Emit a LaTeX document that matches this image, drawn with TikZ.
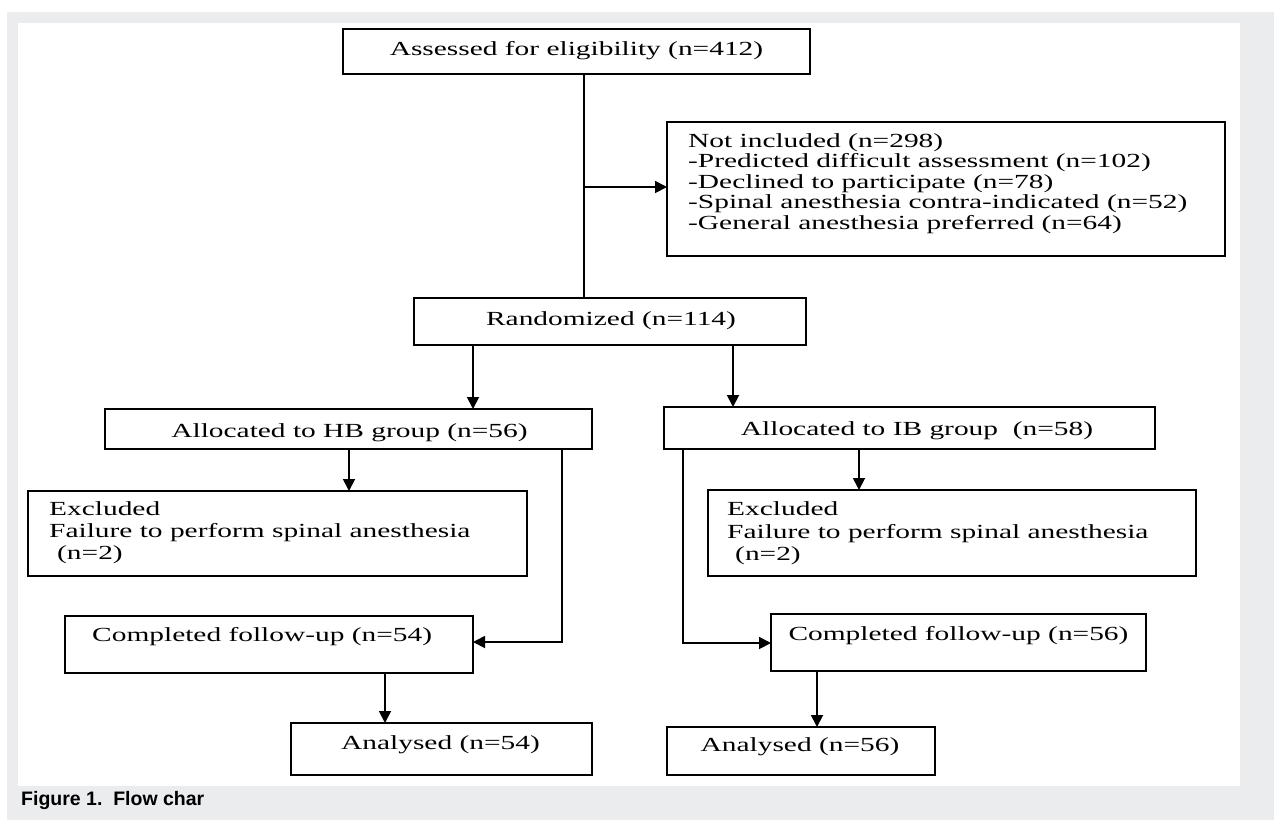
\documentclass[tikz,border=0pt]{standalone}
\usepackage{fontspec}
\setmainfont{Liberation Serif}[FakeStretch=1.47]
\newfontfamily\capfont{Liberation Sans}
\usetikzlibrary{arrows.meta}
\definecolor{bggray}{RGB}{235,236,238}
\begin{document}
\begin{tikzpicture}[x=1pt,y=-1pt,
  box/.style={draw=black, line width=1.7pt, inner sep=0pt, outer sep=0pt, fill=white},
  ln/.style={line width=1.8pt},
  arr/.style={line width=1.8pt, -{Triangle[length=12pt,width=12pt]}},
  txt/.style={inner sep=0pt, font=\fontsize{20}{24}\selectfont}]
\useasboundingbox (0,0) rectangle (1274,820);
\fill[white] (0,0) rectangle (1274,820);
\fill[bggray] (7,12) rectangle (1274,820);
\fill[white] (18,23) rectangle (1240,786);

% boxes
\node[box, minimum width=467, minimum height=45] (A)  at (576.5,51.5) {};
\node[box, minimum width=558, minimum height=134] (N) at (946,189) {};
\node[box, minimum width=392, minimum height=47] (R)  at (610,321.5) {};
\node[box, minimum width=487, minimum height=40] (HB) at (348.5,429) {};
\node[box, minimum width=491, minimum height=42] (IB) at (909.5,428) {};
\node[box, minimum width=499, minimum height=85] (EH) at (277.5,533.5) {};
\node[box, minimum width=488, minimum height=86] (EI) at (952,533) {};
\node[box, minimum width=408, minimum height=57] (CH) at (269,644.5) {};
\node[box, minimum width=375, minimum height=57] (CI) at (958.5,642.5) {};
\node[box, minimum width=301, minimum height=52] (AH) at (441.5,749) {};
\node[box, minimum width=268, minimum height=48] (AI) at (801,751) {};

% texts
\node[txt, anchor=base] (tA) at (576.5,55) {Assessed for eligibility (n=412)};
\node[txt, anchor=base west] (tN1) at (688,147) {Not included (n=298)};
\node[txt, anchor=base west] (tN2) at (688,167.6) {-Predicted difficult assessment (n=102)};
\node[txt, anchor=base west] (tN3) at (688,188.2) {-Declined to participate (n=78)};
\node[txt, anchor=base west] (tN4) at (688,208.8) {-Spinal anesthesia contra-indicated (n=52)};
\node[txt, anchor=base west] (tN5) at (688,229.4) {-General anesthesia preferred (n=64)};
\node[txt, anchor=base] (tR) at (611,325) {Randomized (n=114)};
\node[txt, anchor=base] (tHB) at (349.5,437) {Allocated to HB group (n=56)};
\node[txt, anchor=base] (tIB) at (917,435) {Allocated to IB group\ \ (n=58)};
\node[txt, anchor=base west] (tEH1) at (49,515) {Excluded};
\node[txt, anchor=base west] (tEH2) at (49,537) {Failure to perform spinal anesthesia};
\node[txt, anchor=base west] (tEH3) at (57,559) {(n=2)};
\node[txt, anchor=base west] (tEI1) at (727,515) {Excluded};
\node[txt, anchor=base west] (tEI2) at (727,538) {Failure to perform spinal anesthesia};
\node[txt, anchor=base west] (tEI3) at (735,560) {(n=2)};
\node[txt, anchor=base west] (tCH) at (92,641) {Completed follow-up (n=54)};
\node[txt, anchor=base] (tCI) at (958.5,640) {Completed follow-up (n=56)};
\node[txt, anchor=base] (tAH) at (440.5,749) {Analysed (n=54)};
\node[txt, anchor=base] (tAI) at (800,751) {Analysed (n=56)};

% connectors
\coordinate (xa) at (584,0);
\draw[ln] (A.south -| xa) -- (R.north -| xa);
\coordinate (br) at (584,187);
\draw[arr] (br) -- (N.west |- br);
\coordinate (xr1) at (473,0);
\draw[arr] (R.south -| xr1) -- (HB.north -| xr1);
\coordinate (xr2) at (733,0);
\draw[arr] (R.south -| xr2) -- (IB.north -| xr2);
\coordinate (xh1) at (349,0);
\draw[arr] (HB.south -| xh1) -- (EH.north -| xh1);
\coordinate (th) at (562,642);
\draw[arr] (HB.south -| th) -- (th) -- (CH.east |- th);
\coordinate (xc1) at (385,0);
\draw[arr] (CH.south -| xc1) -- (AH.north -| xc1);
\coordinate (xi1) at (859,0);
\draw[arr] (IB.south -| xi1) -- (EI.north -| xi1);
\coordinate (ti) at (683,643);
\draw[arr] (IB.south -| ti) -- (ti) -- (CI.west |- ti);
\coordinate (xc2) at (817,0);
\draw[arr] (CI.south -| xc2) -- (AI.north -| xc2);

% caption
\node[anchor=base west, inner sep=0pt, font=\capfont\bfseries\fontsize{19.5}{22}\selectfont] (cap) at (21,805) {Figure 1.\ \ Flow char};
\end{tikzpicture}
\end{document}
